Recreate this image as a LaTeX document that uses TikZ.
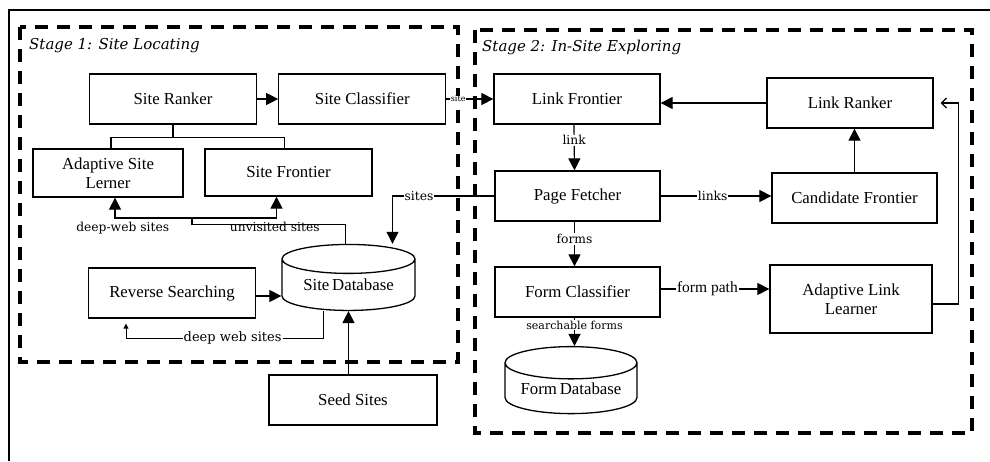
\documentclass[tikz,border=0pt]{standalone}
\usepackage{fontspec}
\setmainfont{Liberation Serif}
\newfontfamily\labelfont{DejaVu Serif}
\usepackage{tikz}
\usetikzlibrary{shapes.geometric,arrows.meta,positioning}

\begin{document}
\begin{tikzpicture}[x=1pt, y=-1pt, >=Triangle,
    block/.style={rectangle, draw=black, line width=1.3pt, fill=white, align=center, minimum width=167pt, minimum height=50pt, inner sep=2pt, font=\fontsize{16.8}{19}\selectfont},
    store/.style={cylinder, shape border rotate=90, aspect=0.32, draw=black, line width=1.3pt, fill=white, minimum width=133pt, minimum height=66pt, inner sep=0pt, font=\fontsize{16.8}{19}\selectfont},
    stage/.style={draw=black, line width=3.6pt, dash pattern=on 13pt off 9pt},
    title/.style={anchor=west, inner sep=0pt, font=\labelfont\itshape\fontsize{15}{17}\selectfont},
    edgelabel/.style={fill=white, inner sep=1pt, font=\labelfont\fontsize{12.3}{14}\selectfont},
    conn/.style={draw=black, line width=1.2pt},
    line/.style={conn, -{Triangle[length=12pt, width=12pt]}},
    thinline/.style={draw=black, line width=1pt, -{Triangle[length=5pt, width=5pt]}}]

    \useasboundingbox (0,0) rectangle (990,461);
    \draw [line width=1.6pt] (9,461) -- (9,10) -- (990,10);

    % the two stages
    \draw [stage] (20,27) rectangle (458,362);
    \draw [stage] (475,30) rectangle (972,433);
    \node [title] (stageone) at (29,46) {Stage 1: Site Locating};
    \node [title] (stagetwo) at (482,47) {Stage 2: In-Site Exploring};

    % stage 1
    \node [block] (ranker) at (173,99) {Site Ranker};
    \node [block, right=21pt of ranker] (classifier) {Site Classifier};
    \node [block, minimum width=150pt, minimum height=48pt] (lerner) at (108,173) {Adaptive Site\\Lerner};
    \node [block, minimum height=47pt] (sfrontier) at (288.5,172.5) {Site Frontier};
    \node [block] (reverse) at (172,293) {Reverse Searching};
    \node [store] (sitedb) at (348.5,285) {Site\,Database};
    \node [block, minimum width=168pt] (seed) at (353,400) {Seed Sites};

    % stage 2
    \node [block, minimum width=166pt] (lfrontier) at (577,99) {Link Frontier};
    \node [block, minimum width=166pt] (lranker) at (850,103) {Link Ranker};
    \node [block, minimum width=165pt] (fetcher) at (577.5,196) {Page Fetcher};
    \node [block, minimum width=165pt] (candidate) at (854.5,198) {Candidate Frontier};
    \node [block, minimum width=165pt] (fclass) at (577.5,292) {Form Classifier};
    \node [block, minimum width=162pt, minimum height=68pt] (alearner) at (851,299) {Adaptive Link\\Learner};
    \node [store, minimum width=132pt, minimum height=67pt] (formdb) at (571,388.5) {Form\,Database};

    % connectors of stage 1
    \path [line] (ranker.east) -- (ranker.east -| classifier.west);
    \path [line] (classifier.east) -- node [edgelabel, pos=0.25, font=\labelfont\fontsize{8}{9}\selectfont, inner sep=0.5pt] {site} (classifier.east -| lfrontier.west);
    \draw [conn] (ranker.south) -- ++(0,13) coordinate (split);
    \draw [conn] ([xshift=3pt]lerner.north) |- (split) -| ([xshift=-4pt]sfrontier.north);
    \draw [conn] ([xshift=-3pt]sitedb.north) -- ++(0,-19) -| (192,218) coordinate (fork);
    \path [line] (fork) -| node [edgelabel, pos=0.45, below=3pt, fill=none] {deep-web sites} ([xshift=7pt]lerner.south);
    \path [line] (fork) -| node [edgelabel, pos=0.49, below=3pt, fill=none] {unvisited sites} ([xshift=-12pt]sfrontier.south);
    \path [line] (fetcher.west) -| node [edgelabel, pos=0.37] {sites} ([xshift=44pt]sitedb.north);
    \path [line] ([yshift=-3pt]reverse.east) -- ([yshift=-3pt]reverse.east -| sitedb.west);
    \path [thinline, shorten >=5pt] ([xshift=-25pt]sitedb.south) -- ++(0,27) -| node [edgelabel, pos=0.23, font=\labelfont\fontsize{13}{15}\selectfont] {deep web sites} ([xshift=-46pt]reverse.south);
    \path [line] (sitedb.south |- seed.north) -- (sitedb.south);

    % connectors of stage 2
    \path [line] (lranker.west) -- (lranker.west -| lfrontier.east);
    \path [line] ([xshift=-3pt]lfrontier.south) -- node [edgelabel, pos=0.34] {link} ([xshift=-3pt]fetcher.north);
    \path [line] (fetcher.east) -- node [edgelabel, pos=0.47] {links} (fetcher.east -| candidate.west);
    \path [line] (candidate.north) -- (candidate.north |- lranker.south);
    \path [line] ([xshift=-3pt]fetcher.south) -- node [edgelabel, pos=0.39] {forms} ([xshift=-3pt]fclass.north);
    \path [line] ([yshift=3pt]fclass.east) -- node [edgelabel, pos=0.43, font=\fontsize{15.5}{17}\selectfont] {form path} ([yshift=3pt]fclass.east -| alearner.west);
    \path [conn, -{Straight Barb[length=5pt, width=10pt]}, shorten >=7pt] ([yshift=-5pt]alearner.east) -- ++(26,0) |- (lranker.east);
    \path [line] ([xshift=-3pt]fclass.south) -- node [edgelabel, pos=0.26, font=\labelfont\fontsize{11}{12}\selectfont] {searchable forms} ([xshift=-3pt]fclass.south |- formdb.north);
\end{tikzpicture}
\end{document}
